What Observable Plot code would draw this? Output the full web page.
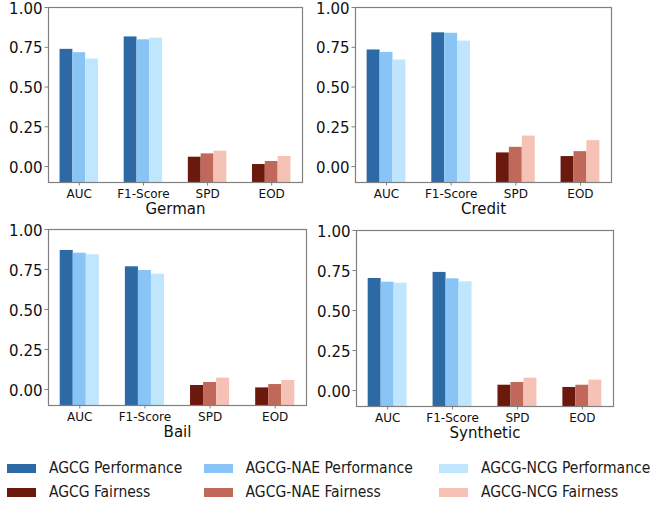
<!DOCTYPE html>
<html>
<head>
<meta charset="utf-8">
<script src="https://cdn.jsdelivr.net/npm/d3@7"></script>
<script src="https://cdn.jsdelivr.net/npm/@observablehq/plot@0.6"></script>
<style>
  html, body { margin: 0; padding: 0; background: white; }
  #root { position: relative; width: 655px; height: 506px; overflow: hidden; background: white; }
  .panel { position: absolute; }
  .legend-item { position: absolute; display: flex; align-items: center; height: 20px;
    font-family: "DejaVu Sans Condensed", "DejaVu Sans", sans-serif; font-stretch: condensed;
    font-size: 15.5px; color: #1a1a1a; white-space: nowrap; }
  .legend-item .sw { display: inline-block; width: 29px; height: 9px; margin-right: 12.6px; }
</style>
</head>
<body>
<div id="root"></div>
<script>
// ---- data ----
const metrics = ["AUC", "F1-Score", "SPD", "EOD"];
const metricType = ["Performance", "Performance", "Fairness", "Fairness"];
const models = ["AGCG", "AGCG-NAE", "AGCG-NCG"];
const datasets = ["German", "Credit", "Bail", "Synthetic"];

// rows = models (AGCG, AGCG-NAE, AGCG-NCG), columns = metrics (AUC, F1-Score, SPD, EOD)
const german    = [[0.737, 0.815, 0.059, 0.013], [0.716, 0.797, 0.080, 0.032], [0.676, 0.807, 0.097, 0.063]];
const credit    = [[0.733, 0.841, 0.086, 0.063], [0.718, 0.838, 0.121, 0.094], [0.670, 0.789, 0.192, 0.163]];
const bail      = [[0.869, 0.767, 0.025, 0.010], [0.852, 0.744, 0.044, 0.031], [0.842, 0.721, 0.071, 0.056]];
const synthetic = [[0.700, 0.738, 0.033, 0.019], [0.677, 0.698, 0.050, 0.033], [0.671, 0.679, 0.077, 0.065]];
const datasetValues = [german, credit, bail, synthetic];

const yTicks = [0, 0.25, 0.5, 0.75, 1.0];
const yMin = -0.1, yMax = 1.0;
const barWidth = 0.2;          // bar width in category units (groups of 3 bars)
const xDomain = [-0.48, 3.48];

const legendKeys = ["AGCG Performance", "AGCG-NAE Performance", "AGCG-NCG Performance",
                    "AGCG Fairness", "AGCG-NAE Fairness", "AGCG-NCG Fairness"];
const legendColors = ["#2c69a5", "#88c4f6", "#bfe6fc", "#6b190d", "#c0695a", "#f6c2b5"];

// ---- layout (panel boxes) ----
const panels = [
  {left: 0,   top: 0,   width: 327, height: 220, marginLeft: 48, marginRight: 25, marginTop: 7, marginBottom: 38},
  {left: 290, top: 0,   width: 365, height: 220, marginLeft: 65, marginRight: 44, marginTop: 7, marginBottom: 38},
  {left: 0,   top: 222, width: 327, height: 220, marginLeft: 48, marginRight: 21, marginTop: 7, marginBottom: 37},
  {left: 290, top: 222, width: 365, height: 220, marginLeft: 66, marginRight: 42, marginTop: 8, marginBottom: 36}
];

const root = document.getElementById("root");

function chart(name, values, p) {
  const data = [];
  models.forEach((model, i) => metrics.forEach((metric, j) => {
    const pos = j + (i - 1) * barWidth;
    data.push({model, metric, value: values[i][j], key: model + " " + metricType[j],
               x1: pos - barWidth / 2, x2: pos + barWidth / 2});
  }));
  return Plot.plot({
    width: p.width, height: p.height,
    marginLeft: p.marginLeft, marginRight: p.marginRight, marginTop: p.marginTop, marginBottom: p.marginBottom,
    style: {fontFamily: "DejaVu Sans", background: "transparent", overflow: "visible", color: "#111"},
    x: {type: "linear", domain: xDomain, label: null},
    y: {domain: [yMin, yMax], label: null},
    color: {domain: legendKeys, range: legendColors},
    marks: [
      Plot.rectY(data, {x1: "x1", x2: "x2", y1: yMin, y2: "value", fill: "key"}),
      Plot.frame({stroke: "#808080", strokeWidth: 1.2}),
      // y tick marks
      Plot.axisY({ticks: yTicks, tickFormat: () => "", tickSize: 3.5, label: null, stroke: "#808080"}),
      // y tick labels
      Plot.axisY({ticks: yTicks, tickFormat: d3.format(".2f"), tickSize: 0, tickPadding: 6,
                  fontSize: 15, label: null, dy: 1.2}),
      Plot.axisX({ticks: metrics.map((m, i) => i), tickFormat: i => metrics[i], tickSize: 3.5, tickPadding: 3.3,
                  fontSize: 12, label: null, stroke: "#808080"}),
      Plot.text([name], {text: d => d, frameAnchor: "bottom", lineAnchor: "top", dy: 21,
                         fontSize: 15, fill: "#111"})
    ]
  });
}

datasets.forEach((name, i) => {
  const p = panels[i];
  const div = document.createElement("div");
  div.className = "panel";
  div.style.left = p.left + "px";
  div.style.top = p.top + "px";
  div.appendChild(chart(name, datasetValues[i], p));
  root.appendChild(div);
});

// ---- legend ----
const legendCols = [7.3, 204, 439.3];
const legendRows = [458, 482];
legendKeys.forEach((k, i) => {
  const item = document.createElement("div");
  item.className = "legend-item";
  item.style.left = legendCols[i % 3] + "px";
  item.style.top = legendRows[Math.floor(i / 3)] + "px";
  const sw = document.createElement("span");
  sw.className = "sw";
  sw.style.background = legendColors[i];
  const lab = document.createElement("span");
  lab.textContent = k;
  item.appendChild(sw);
  item.appendChild(lab);
  root.appendChild(item);
});
</script>
</body>
</html>
